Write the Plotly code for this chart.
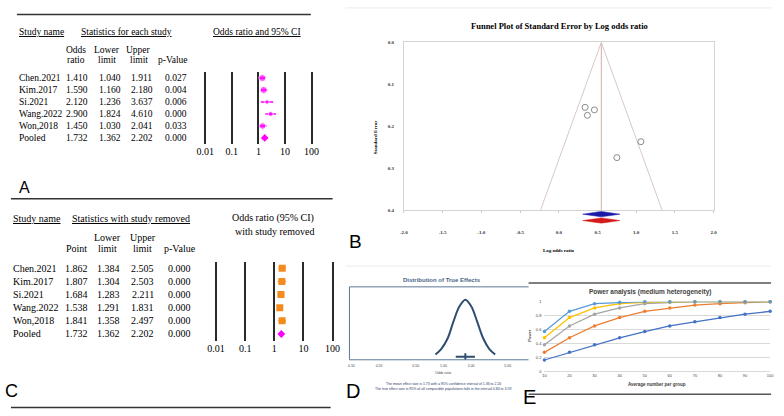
import plotly.graph_objects as go

W, H = 784, 416
SERIF = "Liberation Serif"
SANS = "Liberation Sans"

studies = ["Chen.2021", "Kim.2017", "Si.2021", "Wang.2022", "Won,2018"]
rows = studies + ["Pooled"]

# A - statistics for each study
or_a = [1.410, 1.590, 2.120, 2.900, 1.450]
lo_a = [1.040, 1.160, 1.236, 1.824, 1.030]
hi_a = [1.911, 2.180, 3.637, 4.610, 2.041]
p_a = [0.027, 0.004, 0.006, 0.000, 0.033]
pooled = [1.732, 1.362, 2.202, 0.000]  # point, lower, upper, p

# C - statistics with study removed
pt_c = [1.862, 1.807, 1.684, 1.538, 1.841]
lo_c = [1.384, 1.304, 1.283, 1.291, 1.358]
hi_c = [2.505, 2.503, 2.211, 1.831, 2.497]
p_c = [0.000, 0.000, 0.000, 0.000, 0.000]

forest_ticks = [0.01, 0.1, 1, 10, 100]
forest_ticktext = ["0.01", "0.1", "1", "10", "100"]

# B - funnel plot
lor_b = [0.34, 0.46, 0.75, 1.06, 0.37]
se_b = [0.155, 0.161, 0.275, 0.237, 0.174]
lor_pooled = [0.309, 0.549, 0.789]  # lower, point, upper
se_max = 0.4
b_xticks = [-2.0, -1.5, -1.0, -0.5, 0.0, 0.5, 1.0, 1.5, 2.0]
b_yticks = [0.0, 0.1, 0.2, 0.3, 0.4]

# D - distribution of true effects
d_x = [0.82, 0.95, 1.11, 1.28, 1.49, 1.73, 2.01, 2.33, 2.71, 3.14, 3.65]
d_y = [0.04, 0.14, 0.32, 0.61, 0.88, 1.0, 0.88, 0.61, 0.32, 0.14, 0.04]
d_mean, d_lo, d_hi = 1.73, 1.36, 2.20
d_ticks = [0.1, 0.2, 0.5, 1, 2, 5]
d_ticktext = ["0.10", "0.20", "0.50", "1.00", "2.00", "5.00"]

# E - power analysis
n_group = [10, 20, 30, 40, 50, 60, 70, 80, 90, 100]
pw_blue = [0.16, 0.27, 0.38, 0.48, 0.57, 0.65, 0.71, 0.77, 0.82, 0.86]
pw_orange = [0.27, 0.48, 0.65, 0.77, 0.86, 0.91, 0.95, 0.97, 0.985, 1.0]
pw_gray = [0.38, 0.65, 0.82, 0.91, 0.97, 0.99, 1.0, 1.0, 1.0, 1.0]
pw_yellow = [0.48, 0.77, 0.91, 0.97, 0.99, 1.0, 1.0, 1.0, 1.0, 1.0]
pw_light = [0.57, 0.86, 0.97, 0.99, 1.0, 1.0, 1.0, 1.0, 1.0, 1.0]


def dx(a, b):
    return [a / W, b / W]


def dy(top, bottom):
    return [1 - bottom / H, 1 - top / H]


annotations = []
shapes = []


def txt(x, y, s, size, family=SERIF, color="black", xanchor="center", **kw):
    annotations.append(dict(x=x / W, y=1 - y / H, xref="paper", yref="paper", text=s,
                            showarrow=False, xanchor=xanchor, yanchor="middle",
                            font=dict(family=family, size=size, color=color), **kw))


def row_txt(yref, i, x, s, size=9.5, xanchor="center"):
    annotations.append(dict(x=x / W, y=i, xref="paper", yref=yref, text=s, showarrow=False,
                            xanchor=xanchor, yanchor="middle",
                            font=dict(family=SERIF, size=size, color="black")))


def hline(y, x0, x1, color="#333333", width=1.5):
    shapes.append(dict(type="line", xref="paper", yref="paper", x0=x0 / W, x1=x1 / W,
                       y0=1 - y / H, y1=1 - y / H, line=dict(color=color, width=width)))


def vline(x, y0, y1, color, width=1):
    shapes.append(dict(type="line", xref="paper", yref="paper", x0=x / W, x1=x / W,
                       y0=1 - y0 / H, y1=1 - y1 / H, line=dict(color=color, width=width)))


fig = go.Figure()

# ---------- A ----------
fig.add_trace(go.Scatter(
    x=or_a, y=studies, mode="markers", xaxis="x", yaxis="y",
    marker=dict(symbol="circle", size=[7, 7, 4.5, 5, 6.5], color="#ff00ff"),
    error_x=dict(type="data", symmetric=False, array=[h - o for h, o in zip(hi_a, or_a)],
                 arrayminus=[o - l for o, l in zip(or_a, lo_a)], color="#ff00ff", thickness=1.5, width=0)))
fig.add_trace(go.Scatter(x=[pooled[0]], y=["Pooled"], mode="markers", xaxis="x", yaxis="y",
                         marker=dict(symbol="diamond", size=6, color="#ff00ff")))

# ---------- C ----------
fig.add_trace(go.Scatter(
    x=pt_c, y=studies, mode="markers", xaxis="x2", yaxis="y2",
    marker=dict(symbol="square", size=7, color="#f58a1f"),
    error_x=dict(type="data", symmetric=False, array=[h - o for h, o in zip(hi_c, pt_c)],
                 arrayminus=[o - l for o, l in zip(pt_c, lo_c)], color="#f58a1f", thickness=1.5, width=0)))
fig.add_trace(go.Scatter(x=[pooled[0]], y=["Pooled"], mode="markers", xaxis="x2", yaxis="y2",
                         marker=dict(symbol="diamond", size=6, color="#ff00ff")))

# ---------- B ----------
lo_f = lor_pooled[1] - 1.96 * se_max
hi_f = lor_pooled[1] + 1.96 * se_max
fig.add_trace(go.Scatter(x=[lo_f, lor_pooled[1], hi_f], y=[se_max, 0, se_max], mode="lines",
                         line=dict(color="#d8c8c8", width=1), xaxis="x3", yaxis="y3"))
fig.add_trace(go.Scatter(x=[lor_pooled[1], lor_pooled[1]], y=[0, se_max], mode="lines",
                         line=dict(color="#e2a9a9", width=1), xaxis="x3", yaxis="y3"))
fig.add_trace(go.Scatter(x=lor_b, y=se_b, mode="markers", xaxis="x3", yaxis="y3",
                         marker=dict(symbol="circle-open", size=6, color="#8a8a8a", line=dict(width=1))))
for c, col in [(1.5, "#1a1aa8"), (0.5, "#d41a1a")]:
    fig.add_trace(go.Scatter(x=[lor_pooled[0], lor_pooled[1], lor_pooled[2], lor_pooled[1], lor_pooled[0]],
                             y=[c, c + 0.42, c, c - 0.42, c], mode="lines", fill="toself",
                             fillcolor=col, line=dict(color=col, width=0.5), xaxis="x4", yaxis="y4"))

# ---------- D ----------
fig.add_trace(go.Scatter(x=d_x, y=d_y, mode="lines", line=dict(color="#2e4d70", width=2, shape="spline"),
                         xaxis="x5", yaxis="y5"))
fig.add_trace(go.Scatter(x=[d_mean], y=[0], mode="markers", xaxis="x5", yaxis="y5",
                         marker=dict(symbol="line-ns", size=5, line=dict(color="#2e4d70", width=2)),
                         error_x=dict(type="data", symmetric=False, array=[d_hi - d_mean],
                                      arrayminus=[d_mean - d_lo], color="#2e4d70", thickness=2, width=0)))

# ---------- E ----------
for ys, col in [(pw_blue, "#4472c4"), (pw_orange, "#ed7d31"), (pw_gray, "#a5a5a5"),
                (pw_yellow, "#ffc000"), (pw_light, "#5b9bd5")]:
    fig.add_trace(go.Scatter(x=n_group, y=ys, mode="lines+markers", xaxis="x6", yaxis="y6",
                             line=dict(color=col, width=1.3), marker=dict(size=3.5, color=col),
                             cliponaxis=False))

# ---------- axes ----------
pad = 5
sa = 26.85
sc = 29.4
forest_x = dict(type="log", tickvals=forest_ticks, ticktext=forest_ticktext, showgrid=True,
                gridcolor="#2a2a2a", gridwidth=2, showline=False, zeroline=False, ticks="",
                tickfont=dict(family=SERIF, size=10, color="black"))
forest_y = dict(type="category", categoryorder="array", categoryarray=rows, range=[5.5, -0.5],
                visible=False)

fig.update_layout(
    width=W, height=H, margin=dict(l=0, r=0, t=0, b=0),
    paper_bgcolor="white", plot_bgcolor="white", showlegend=False,
    xaxis=dict(forest_x, domain=dx(203.3 - pad, 310.7 + pad), range=[-2 - pad / sa, 2 + pad / sa],
               anchor="y"),
    yaxis=dict(forest_y, domain=dy(70, 143), anchor="x"),
    xaxis2=dict(forest_x, domain=dx(214.3 - pad, 332 + pad), range=[-2 - pad / sc, 2 + pad / sc],
                anchor="y2"),
    yaxis2=dict(forest_y, domain=dy(262.5, 342.5), anchor="x2"),
    xaxis3=dict(domain=dx(404, 717), range=[-2, 2], tickvals=b_xticks,
                ticktext=["%.1f" % v for v in b_xticks], showgrid=False, zeroline=False,
                showline=True, mirror=True, linecolor="#d4d4d4", linewidth=1,
                ticks="outside", ticklen=2, tickcolor="#cccccc", ticklabelstandoff=15,
                tickfont=dict(family=SERIF, size=5, color="#333333", weight="bold"), anchor="y3"),
    yaxis3=dict(domain=dy(40, 210), range=[se_max, 0], tickvals=b_yticks,
                ticktext=["%.1f" % v for v in b_yticks], showgrid=False, zeroline=False,
                showline=True, mirror=True, linecolor="#d4d4d4", linewidth=1, ticks="",
                ticklabelstandoff=8,
                tickfont=dict(family=SERIF, size=5, color="#333333", weight="bold"), anchor="x3"),
    xaxis4=dict(domain=dx(404, 717), range=[-2, 2], visible=False, anchor="y4"),
    yaxis4=dict(domain=dy(211, 224), range=[0, 2], visible=False, anchor="x4"),
    xaxis5=dict(type="log", domain=dx(349, 530), range=[-1.021, 0.925], tickvals=d_ticks,
                ticktext=d_ticktext, showgrid=False, zeroline=False, showline=False, ticks="",
                ticklabelstandoff=3, tickfont=dict(family=SANS, size=3.5, color="#444444"), anchor="y5"),
    yaxis5=dict(domain=dy(288, 362), range=[-0.052, 1.224], visible=False, anchor="x5"),
    xaxis6=dict(domain=dx(546, 774), range=[10, 100], tickvals=n_group, showgrid=False,
                zeroline=False, showline=False, ticks="", ticklabelstandoff=1,
                tickfont=dict(family=SANS, size=4, color="#444444"), anchor="y6"),
    yaxis6=dict(domain=dy(303, 373.5), range=[0, 1], tickvals=[0, 0.2, 0.4, 0.6, 0.8, 1],
                ticktext=["0", "0.2", "0.4", "0.6", "0.8", "1"], showgrid=True, gridcolor="#d9d9d9",
                gridwidth=0.8, zeroline=True, zerolinecolor="#d9d9d9", zerolinewidth=0.8,
                ticks="", ticklabelstandoff=2,
                tickfont=dict(family=SANS, size=4, color="#444444"), anchor="x6"),
)

# ---------- A text ----------
hline(11.7, 13, 310)
txt(13, 29.3, "<u>Study name</u>", 9.5, xanchor="left")
txt(123.5, 29.3, "<u>Statistics for each study</u>", 9.5)
txt(256, 29.3, "<u>Odds ratio and 95% CI</u>", 9.5)
txt(72.7, 47.7, "Odds", 9.5)
txt(72.7, 58.3, "ratio", 9.5)
txt(104, 47.7, "Lower", 9.5)
txt(104, 58.3, "limit", 9.5)
txt(136, 47.7, "Upper", 9.5)
txt(136, 58.3, "limit", 9.5)
txt(171, 58.3, "p-Value", 9.5)
a_vals = list(zip(or_a, lo_a, hi_a, p_a)) + [tuple(pooled)]
for i, name in enumerate(rows):
    row_txt("y", i, 13, name, xanchor="left")
    for xc, v in zip([73.5, 107, 139, 174], a_vals[i]):
        row_txt("y", i, xc, "%.3f" % v)
txt(20.5, 187.5, "A", 16, family=SANS)
hline(198.5, 7, 332)

# ---------- C text ----------
txt(7.5, 218.3, "<u>Study name</u>", 10, xanchor="left")
txt(128, 218.3, "<u>Statistics with study removed</u>", 10)
txt(272, 218.3, "Odds ratio (95% CI)", 10)
txt(273, 231.7, "with study removed", 10)
txt(73, 249, "Point", 10)
txt(105, 238.3, "Lower", 10)
txt(105, 249, "limit", 10)
txt(140, 238.3, "Upper", 10)
txt(140, 249, "limit", 10)
txt(178, 249, "p-Value", 10)
c_vals = list(zip(pt_c, lo_c, hi_c, p_c)) + [tuple(pooled)]
for i, name in enumerate(rows):
    row_txt("y2", i, 7.5, name, size=10, xanchor="left")
    for xc, v in zip([73.3, 106, 140, 177.3], c_vals[i]):
        row_txt("y2", i, xc, "%.3f" % v, size=10)
txt(7.5, 393.5, "C", 18, family=SANS)
hline(410.5, 7, 330)

# ---------- B text ----------
hline(5, 345, 775, color="#ebebeb", width=1)
txt(561, 23.3, "<b>Funnel Plot of Standard Error by Log odds ratio</b>", 8.5)
txt(375, 136, "<b>Standard Error</b>", 5, textangle=-90)
txt(561, 250.7, "<b>Log odds ratio</b>", 5)
txt(355.5, 242, "B", 19, family=SANS)

# ---------- D text ----------
hline(267, 345, 775, color="#ebebeb", width=1)
txt(443, 281, "<b>Distribution of True Effects</b>", 6, family=SANS, color="#4a6687")
hline(288, 349, 530, color="#5b7896", width=1)
hline(362, 349, 530, color="#5b7896", width=1)
vline(349, 288, 362, color="#5b7896", width=1)
txt(444, 375, "Odds ratio", 3.5, family=SANS, color="#444444")
txt(444, 387, "The mean effect size is 1.73 with a 95% confidence interval of 1.36 to 2.20", 3.5,
    family=SANS, color="#1f3a66")
txt(444, 392, "The true effect size in 95% of all comparable populations falls in the interval 0.84 to 3.59",
    3.5, family=SANS, color="#1f3a66")
txt(353, 394, "D", 20, family=SANS)

# ---------- E text ----------
hline(284, 530, 775, color="#555555", width=1.5)
txt(653, 293, "<b>Power analysis (medium heterogeneity)</b>", 6.5, family=SANS, color="#404040")
txt(531, 338, "<b>Power</b>", 4, family=SANS, color="#404040", textangle=-90)
txt(660, 387, "<b>Average number per group</b>", 4.5, family=SANS, color="#404040")
hline(397, 530, 775, color="#555555", width=1.5)
txt(531, 400, "E", 20, family=SANS)

fig.update_layout(annotations=annotations, shapes=shapes)
fig.write_html("out.html", config={"displayModeBar": False},
               post_script="document.body.style.margin='0';document.body.style.overflow='hidden';")
